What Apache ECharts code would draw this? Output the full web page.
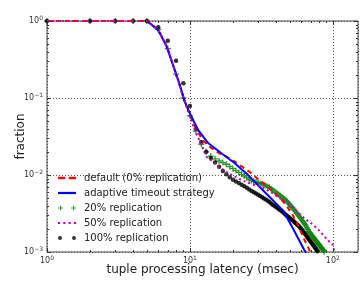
<!DOCTYPE html>
<html><head><meta charset="utf-8">
<script src="https://cdn.jsdelivr.net/npm/echarts@6/dist/echarts.min.js"></script>
<style>html,body{margin:0;padding:0;background:#fff}#c{width:361px;height:281px}</style>
</head><body><div id="c"></div>
<script>
// ---- data ----
const seriesNames = ['default (0% replication)', 'adaptive timeout strategy', '20% replication', '50% replication', '100% replication'];

const redX = [1, 5, 6, 7, 8, 9, 10, 10.8, 12.3, 13.7, 16.1, 18.4, 21.6, 26.1, 29.9, 35, 42.3, 47.1, 52.4, 58.3, 63.2, 69.2];
const redY = [1, 1, 0.776, 0.437, 0.204, 0.102, 0.0603, 0.0427, 0.0282, 0.0234, 0.0191, 0.017, 0.0141, 0.011, 0.0089, 0.00708, 0.00513, 0.00407, 0.00302, 0.00204, 0.00145, 0.00102];

const blueX = [5, 6, 6.8, 7.6, 8.5, 9.2, 10, 11.4, 13.4, 16.6, 20.5, 25.4, 28.3, 34, 44.6, 52.4, 63, 65];
const blueY = [1, 0.76, 0.49, 0.27, 0.148, 0.09, 0.063, 0.0385, 0.026, 0.0192, 0.0143, 0.0101, 0.0082, 0.0058, 0.0035, 0.00205, 0.00107, 0.00098];

const greenX = [1,2,3,4,5,6,7,8,9,10,11,12,13,14,15,16,17,18,19,20,21,22,23,24,25,26,27,28,29,30,31,32,33,34,35,36,37,38,39,40,41,42,43,44,45,46,47,48,49,50,51,52,53,54,55,56,57,58,59,60,61,62,63,64,65,66,67,68,69,70,71,72,73,74,75,76,77,78,79,80,81,82,83,84,85,86,87];
const greenY = [1,1,1,1,1,0.776,0.437,0.204,0.100,0.059,0.0372,0.0251,0.0200,0.0176,0.0162,0.0152,0.0145,0.0138,0.0129,0.0121,0.0114,0.0108,0.0102,0.00968,0.00923,0.00881,0.00848,0.00828,0.00811,0.00794,0.00778,0.00762,0.00745,0.00726,0.00708,0.00692,0.00665,0.00640,0.00617,0.00594,0.00574,0.00555,0.00537,0.00519,0.00501,0.00484,0.00469,0.00450,0.00430,0.00411,0.00393,0.00378,0.00361,0.00347,0.00332,0.00318,0.00304,0.00293,0.00280,0.00269,0.00257,0.00247,0.00237,0.00227,0.00217,0.00205,0.00195,0.00185,0.00178,0.00172,0.00166,0.00161,0.00156,0.00151,0.00146,0.00141,0.00137,0.00133,0.00128,0.00125,0.00121,0.00117,0.00114,0.00111,0.00108,0.00105,0.00101];

const magX = [1, 5, 6, 7, 8, 9, 10, 11, 12, 13, 14.5, 15.7, 18, 20.5, 24, 28.2, 32.3, 38, 42.3, 49.7, 55.2, 63.1, 72.1, 80, 89.5, 100, 102];
const magY = [1, 1, 0.776, 0.437, 0.204, 0.1, 0.0562, 0.0355, 0.0251, 0.0174, 0.0148, 0.0129, 0.011, 0.00955, 0.00832, 0.00741, 0.00692, 0.00575, 0.00501, 0.00417, 0.00347, 0.00275, 0.00229, 0.00191, 0.00151, 0.00123, 0.00105];

const blackX = [1,2,3,4,5,6,7,8,9,10,11,12,13,14,15,16,17,18,19,20,21,22,23,24,25,26,27,28,29,30,31,32,33,34,35,36,37,38,39,40,41,42,43,44,45,46,47,48,49,50,51,52,53,54,55,56,57,58,59,60,61,62,63,64,65,66,67,68,69,70,71,72,73,74,75,76,77,78];
const blackY = [1,1,1,1,1,0.83,0.556,0.305,0.156,0.079,0.0398,0.0269,0.0200,0.0166,0.0145,0.0128,0.0113,0.0102,0.00933,0.00869,0.00826,0.00785,0.00748,0.00716,0.00684,0.00650,0.00622,0.00597,0.00575,0.00553,0.00533,0.00514,0.00497,0.00481,0.00462,0.00445,0.00428,0.00412,0.00398,0.00385,0.00372,0.00360,0.00348,0.00337,0.00326,0.00314,0.00303,0.00294,0.00284,0.00275,0.00267,0.00260,0.00252,0.00244,0.00237,0.00230,0.00222,0.00216,0.00208,0.00200,0.00193,0.00185,0.00178,0.00171,0.00165,0.00158,0.00152,0.00146,0.00141,0.00136,0.00132,0.00127,0.00123,0.00118,0.00114,0.00110,0.00107,0.00102];

const xMajorTicks = [1, 10, 100];
const xMinorTicks = [2, 3, 4, 5, 6, 7, 8, 9, 20, 30, 40, 50, 60, 70, 80, 90];
const yMajorTicks = [0.001, 0.01, 0.1, 1];
const yMinorTicks = [0.002, 0.003, 0.004, 0.005, 0.006, 0.007, 0.008, 0.009, 0.02, 0.03, 0.04, 0.05, 0.06, 0.07, 0.08, 0.09, 0.2, 0.3, 0.4, 0.5, 0.6, 0.7, 0.8, 0.9];
const xMin = 1, xMax = 150, yMin = 0.001, yMax = 1;

// ---- chart ----
const zip = (a, b) => a.map((v, i) => [v, b[i]]);
const FONT = 'DejaVu Sans';

function powLabel(v) {
  const l = Math.log10(v);
  const e = Math.round(l);
  if (Math.abs(l - e) > 1e-6) return '';
  return '{b|10}{s|' + (e < 0 ? '\u2212' + (-e) : e) + '}';
}
const richLab = {
  b: { fontSize: 8, fontFamily: FONT, color: '#333' },
  s: { fontSize: 6, fontFamily: FONT, color: '#333', padding: [0, 0, 6, 0] }
};

const chart = echarts.init(document.getElementById('c'), null, { renderer: 'canvas' });
chart.setOption({
  animation: false,
  backgroundColor: '#fff',
  grid: { left: 47, right: 3, top: 21, bottom: 29, show: true, borderColor: '#444', borderWidth: 1,
          backgroundColor: 'transparent', containLabel: false, outerBoundsMode: 'none' },
  xAxis: {
    type: 'log', logBase: 10, min: xMin, max: xMax, interval: 1,
    name: 'tuple processing latency (msec)', nameLocation: 'middle', nameGap: 12, nameMoveOverlap: false,
    nameTextStyle: { fontFamily: FONT, fontSize: 12, color: '#222' },
    axisLine: { show: false }, axisTick: { show: false },
    axisLabel: { formatter: powLabel, rich: richLab, margin: 3, showMaxLabel: false },
    splitLine: { show: true, lineStyle: { type: [1, 2], color: '#555', width: 1 } }
  },
  yAxis: {
    type: 'log', logBase: 10, min: yMin, max: yMax, interval: 1,
    name: 'fraction', nameLocation: 'middle', nameGap: 20, nameMoveOverlap: false,
    nameTextStyle: { fontFamily: FONT, fontSize: 12, color: '#222' },
    axisLine: { show: false }, axisTick: { show: false },
    axisLabel: { formatter: powLabel, rich: richLab, margin: 4 },
    splitLine: { show: true, lineStyle: { type: [1, 2], color: '#555', width: 1 } }
  },
  legend: {
    orient: 'vertical', left: 58, top: 172, padding: 0, itemGap: 3,
    itemWidth: 18, itemHeight: 6,
    textStyle: { fontFamily: FONT, fontSize: 10, color: '#222', padding: [0, 0, 0, 3], lineHeight: 12 },
    data: [
      { name: seriesNames[0], icon: 'path://M0,0H6V2H0Z M9,0H15V2H9Z' },
      { name: seriesNames[1], icon: 'path://M0,0H16V2H0Z' },
      { name: seriesNames[2], icon: 'path://M2,0H3V2H5V3H3V5H2V3H0V2H2Z M15,0H16V2H18V3H16V5H15V3H13V2H15Z' },
      { name: seriesNames[3], icon: 'path://M0,0H2V2H0Z M5,0H7V2H5Z M10,0H12V2H10Z M15,0H17V2H15Z' },
      { name: seriesNames[4], icon: 'path://M0,2A2,2 0 1,0 4,2A2,2 0 1,0 0,2Z M14,2A2,2 0 1,0 18,2A2,2 0 1,0 14,2Z' }
    ]
  },
  series: [
    { name: seriesNames[0], type: 'line', data: zip(redX, redY), showSymbol: false, color: '#ff0000',
      lineStyle: { color: '#ff0000', width: 2, type: [5, 4] } },
    { name: seriesNames[1], type: 'line', data: zip(blueX, blueY), showSymbol: false, color: '#0000ff',
      lineStyle: { color: '#0000ff', width: 2 } },
    { name: seriesNames[2], type: 'scatter', data: zip(greenX, greenY), color: '#008000',
      symbol: 'path://M3.5,0H5.5V3.5H9V5.5H5.5V9H3.5V5.5H0V3.5H3.5Z', symbolSize: 6,
      itemStyle: { color: '#008000' } },
    { name: seriesNames[3], type: 'line', data: zip(magX, magY), showSymbol: false, color: '#bf00bf',
      lineStyle: { color: '#bf00bf', width: 2, type: [2, 3] } },
    { name: seriesNames[4], type: 'scatter', data: zip(blackX, blackY), color: '#000000',
      symbol: 'circle', symbolSize: 4.5, itemStyle: { color: '#000' } },
    { type: 'custom', silent: true, data: [[xMin, yMin]], z: 10,
      renderItem: function (params, api) {
        const l = api.coord([xMin, yMin])[0], b = api.coord([xMin, yMin])[1];
        const r = api.coord([xMax, yMax])[0], t = api.coord([xMax, yMax])[1];
        const kids = [];
        const st = { stroke: '#333', lineWidth: 1 };
        function vt(v, len) {
          const x = Math.round(api.coord([v, yMin])[0]) + 0.5;
          kids.push({ type: 'line', shape: { x1: x, y1: b, x2: x, y2: b - len }, style: st });
          kids.push({ type: 'line', shape: { x1: x, y1: t, x2: x, y2: t + len }, style: st });
        }
        function ht(v, len) {
          const y = Math.round(api.coord([xMin, v])[1]) + 0.5;
          kids.push({ type: 'line', shape: { x1: l, y1: y, x2: l + len, y2: y }, style: st });
          kids.push({ type: 'line', shape: { x1: r, y1: y, x2: r - len, y2: y }, style: st });
        }
        xMajorTicks.forEach(v => vt(v, 4));
        xMinorTicks.forEach(v => vt(v, 2));
        yMajorTicks.forEach(v => ht(v, 4));
        yMinorTicks.forEach(v => ht(v, 2));
        return { type: 'group', children: kids };
      }
    }
  ]
});
</script></body></html>
